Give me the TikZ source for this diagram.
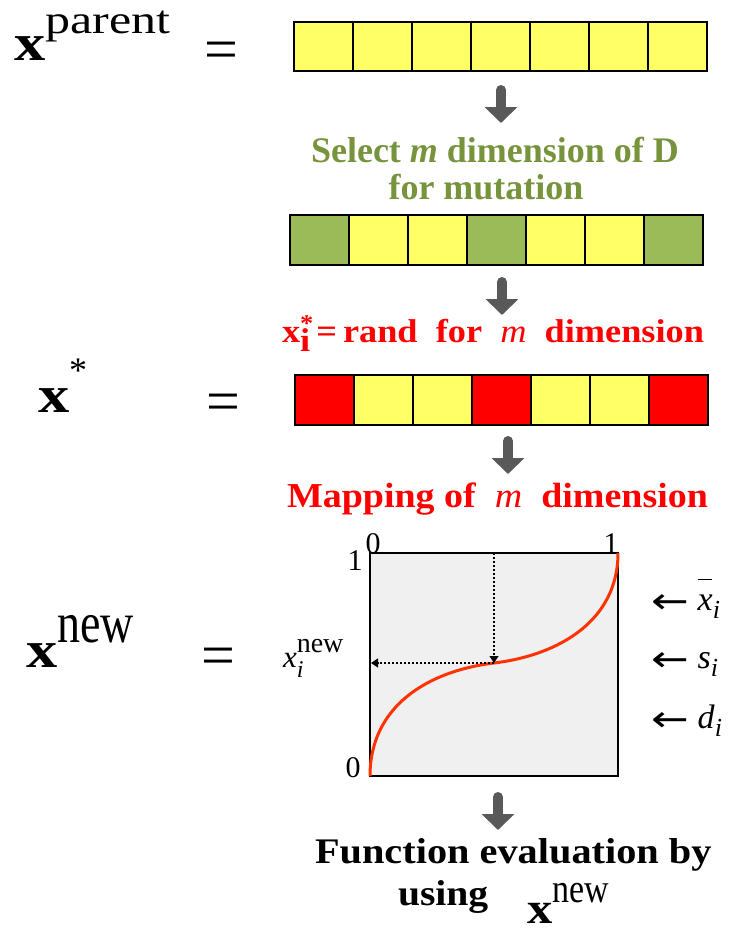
\documentclass[tikz,border=0pt]{standalone}
\usepackage{fontspec}
\setmainfont{Liberation Serif}
\newfontfamily\arrowfont{DejaVu Sans}
\usetikzlibrary{arrows.meta}
\definecolor{cellyellow}{HTML}{FFFF66}
\definecolor{cellgreen}{HTML}{9BBB59}
\definecolor{cellred}{HTML}{FF0000}
\definecolor{olivetext}{HTML}{77933C}
\definecolor{arrowgray}{HTML}{595959}
\definecolor{curvered}{HTML}{FF3300}
\definecolor{plotbg}{HTML}{F0F0F0}
\newcommand\fs[1]{\fontsize{#1}{#1}\selectfont}
\newcommand\larr{\raisebox{-3pt}{\scalebox{1.25}[1]{\arrowfont\fs{36}←}}\hspace{9pt}}
\begin{document}
\begin{tikzpicture}[x=1pt,y=-1pt,
  cell/.style={draw=black, line width=1.5pt, minimum width=59pt, minimum height=50pt,
    inner sep=0pt, outer sep=0pt, anchor=north west},
  blockarrow/.style={draw=arrowgray, line width=10pt, line cap=round,
    -{Triangle[width=32pt,length=16pt]}},
  txt/.style={inner sep=0pt, outer sep=0pt},
  eqsign/.style={inner sep=0pt, outer sep=0pt, font=\fs{60}},
  guide/.style={line width=1.2pt, dash pattern=on 2pt off 2pt,
    -{Triangle[width=9pt,length=7pt]}},
  axlabel/.style={inner sep=0pt, outer sep=0pt, anchor=base, font=\fs{30}},
  sidelabel/.style={inner sep=0pt, outer sep=0pt, anchor=base west, font=\fs{34}}]
\useasboundingbox (0,0) rectangle (739,930);

% ---------- row 1 : parent ----------
\node[txt, anchor=base west] (xpar) at (14,60)
  {\fs{52}\scalebox{1.2}[1]{\textbf{x}}\raisebox{27pt}{\scalebox{1.25}[1]{\fs{40}parent}}};
\node[eqsign] (eq1) at (221,56) {=};
\foreach \c [count=\i from 0] in {cellyellow,cellyellow,cellyellow,cellyellow,cellyellow,cellyellow,cellyellow}
  \node[cell, fill=\c, minimum height=49pt] (ra\i) at (294+59*\i,22) {};

\coordinate (a1s) at (501,90);
\coordinate (a1e) at (501,123);
\draw[blockarrow] (a1s) -- (a1e);

\node[txt, anchor=base, text=olivetext, font=\bfseries\fs{36}] (sel1) at (495,162)
  {Select \textit{m} dimension of D};
\node[txt, anchor=base, text=olivetext, font=\bfseries\fs{36}] (sel2) at (486,199)
  {for mutation};

% ---------- row 2 : selection ----------
\foreach \c [count=\i from 0] in {cellgreen,cellyellow,cellyellow,cellgreen,cellyellow,cellyellow,cellgreen}
  \node[cell, fill=\c] (rb\i) at (290+59*\i,215) {};

\coordinate (a2s) at (502,282);
\coordinate (a2e) at (502,315);
\draw[blockarrow] (a2s) -- (a2e);

\node[txt, anchor=base west, text=red, font=\bfseries\fs{33}] (rand) at (282,342)
  {\scalebox{1.1}[1]{x\rlap{\raisebox{11pt}{\fs{24}*}}\raisebox{-9pt}{i}\,=\,rand\ \ for\ \ \textit{\mdseries m}\ \ dimension}};

% ---------- row 3 : x* ----------
\node[txt, anchor=base west] (xstar) at (38,412)
  {\fs{52}\scalebox{1.2}[1]{\textbf{x}}\raisebox{30pt}{\fs{36}*}};
\node[eqsign] (eq2) at (223,408) {=};
\foreach \c [count=\i from 0] in {cellred,cellyellow,cellyellow,cellred,cellyellow,cellyellow,cellred}
  \node[cell, fill=\c] (rc\i) at (295+59*\i,375) {};

\coordinate (a3s) at (508,441);
\coordinate (a3e) at (508,474);
\draw[blockarrow] (a3s) -- (a3e);

\node[txt, anchor=base west, text=red, font=\bfseries\fs{35}] (map) at (287,507)
  {\scalebox{1.085}[1]{Mapping of\ \ \textit{\mdseries m}\ \ dimension}};

% ---------- row 4 : mapping ----------
\node[txt, anchor=base west] (xnew) at (26,667)
  {\fs{52}\scalebox{1.2}[1]{\textbf{x}}\raisebox{25pt}{\scalebox{1}[1.25]{\fs{46}new}}};
\node[eqsign] (eq3) at (218,662) {=};

\node[draw=black, fill=plotbg, line width=2pt, minimum width=248pt, minimum height=223pt,
  inner sep=0pt, outer sep=0pt, anchor=north west] (plot) at (370,553) {};
\coordinate (mid) at (494,663);
\draw[curvered, line width=3pt] (plot.south west)
  .. controls (370,706) and (428,671) .. (mid)
  .. controls (560,655) and (618,620) .. (plot.north east);
\coordinate (topx) at (494,553);
\coordinate (leftx) at (371,663);
\draw[guide] (topx) -- (mid);
\draw[guide] (mid) -- (leftx);

\node[axlabel] (t0) at (373,553) {0};
\node[axlabel] (t1) at (611,553) {1};
\node[axlabel] (l1) at (355,570) {1};
\node[axlabel] (l0) at (353,777) {0};

\node[txt, anchor=base west, font=\fs{31}] (xinew) at (283,667)
  {\textit{x}\rlap{\raisebox{15pt}{\fs{28}new}}\raisebox{-10pt}{\fs{24}\textit{i}}};

\node[sidelabel] (lbx) at (651,610)
  {\larr\rlap{\raisebox{30pt}{\rule{14pt}{1.3pt}}}\textit{x}\raisebox{-8pt}{\fs{26}\textit{i}}};
\node[sidelabel] (lbs) at (651,668)
  {\larr\textit{s}\raisebox{-8pt}{\fs{26}\textit{i}}};
\node[sidelabel] (lbd) at (651,728)
  {\larr\textit{d}\raisebox{-8pt}{\fs{26}\textit{i}}};

\coordinate (a4s) at (498,797);
\coordinate (a4e) at (498,830);
\draw[blockarrow] (a4s) -- (a4e);

% ---------- result ----------
\node[txt, anchor=base west, font=\bfseries\fs{36}] (func) at (315,863)
  {\scalebox{1.12}[1]{Function evaluation by}};
\node[txt, anchor=base west, font=\bfseries\fs{36}] (using) at (398,905)
  {\scalebox{1.1}[1]{using}};
\node[txt, anchor=base west] (xres) at (527,923)
  {\fs{44}\scalebox{1.15}[1]{\textbf{x}}\raisebox{21pt}{\scalebox{1}[1.2]{\fs{34}new}}};
\end{tikzpicture}
\end{document}
